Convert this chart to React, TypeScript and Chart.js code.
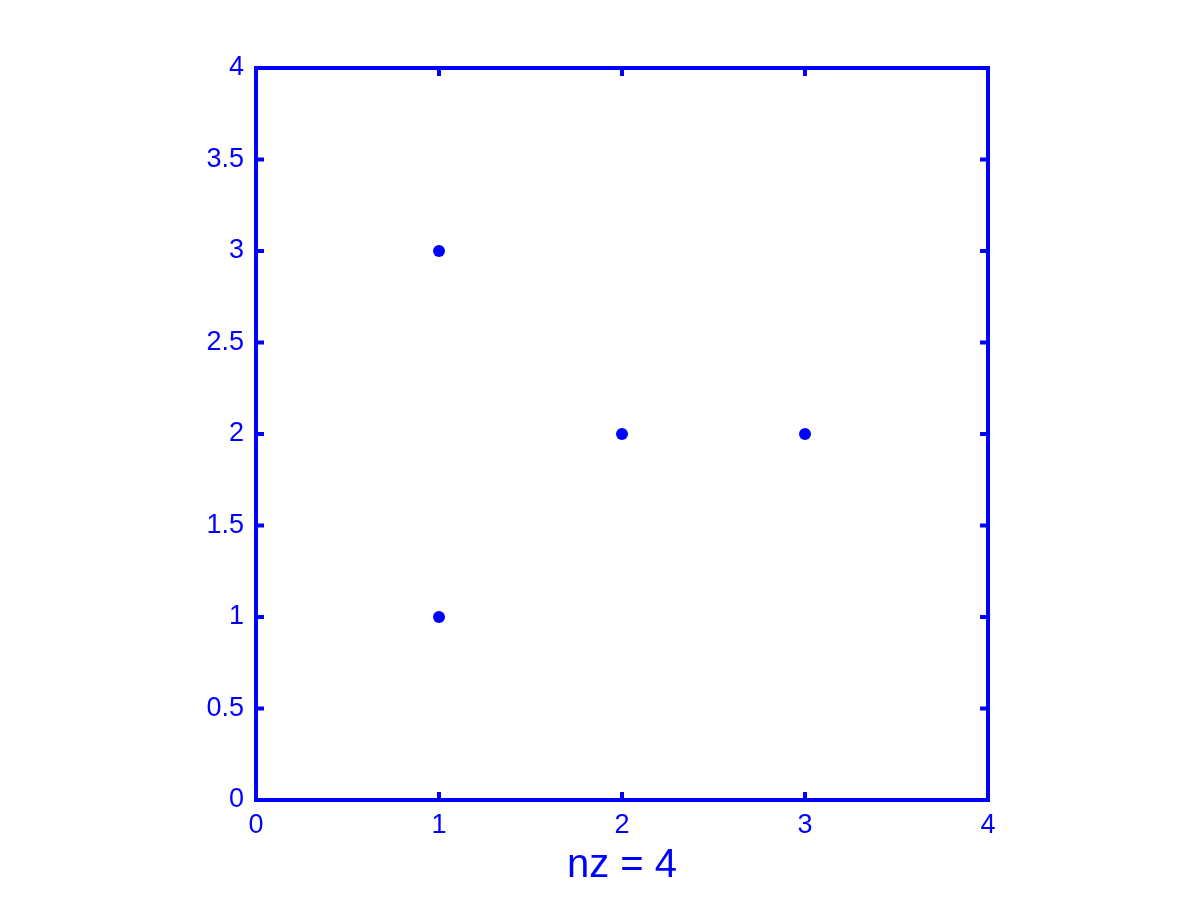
import React, { useEffect, useRef } from "react";
import { Chart, registerables } from "chart.js";

Chart.register(...registerables);

const xValues = [1, 1, 2, 3];
const yValues = [3, 1, 2, 2];
const xTickValues = [0, 1, 2, 3, 4];
const yTickValues = [0, 0.5, 1, 1.5, 2, 2.5, 3, 3.5, 4];
const xLabelText = "nz = 4";

const BLUE = "#0000ff";
const FONT = "'Liberation Sans', Arial, sans-serif";

const frameTicks = {
  id: "frameTicks",
  afterDraw(chart: any) {
    const { ctx, chartArea } = chart;
    const xs = chart.scales.x;
    const ys = chart.scales.y;
    const { left, right, top, bottom } = chartArea;
    ctx.save();
    ctx.strokeStyle = BLUE;
    ctx.lineWidth = 4;
    const tl = 8;
    ctx.beginPath();
    xTickValues.forEach((v) => {
      const px = xs.getPixelForValue(v);
      ctx.moveTo(px, bottom);
      ctx.lineTo(px, bottom - tl);
      ctx.moveTo(px, top);
      ctx.lineTo(px, top + tl);
    });
    yTickValues.forEach((v) => {
      const py = ys.getPixelForValue(v);
      ctx.moveTo(left, py);
      ctx.lineTo(left + tl, py);
      ctx.moveTo(right, py);
      ctx.lineTo(right - tl, py);
    });
    ctx.stroke();
    ctx.lineJoin = "miter";
    ctx.strokeRect(left, top, right - left, bottom - top);
    ctx.restore();
  },
};

export default function App() {
  const ref = useRef<HTMLCanvasElement | null>(null);
  useEffect(() => {
    document.body.style.margin = "0";
    const canvas = ref.current!;
    const chart = new Chart(canvas, {
      type: "scatter",
      data: {
        datasets: [
          {
            data: xValues.map((x, i) => ({ x, y: yValues[i] })),
            backgroundColor: BLUE,
            borderColor: BLUE,
            pointRadius: 6,
            borderWidth: 0,
          },
        ],
      },
      options: {
        animation: false,
        responsive: false,
        layout: { padding: { left: 0, top: 68, right: 212, bottom: 0 } },
        plugins: { legend: { display: false }, tooltip: { enabled: false } },
        scales: {
          x: {
            type: "linear",
            min: 0,
            max: 4,
            afterFit: (s: any) => {
              s.height = 100;
            },
            afterBuildTicks: (s: any) => {
              s.ticks = xTickValues.map((v) => ({ value: v }));
            },
            grid: { display: false, drawTicks: false },
            border: { display: false },
            ticks: {
              color: BLUE,
              font: { family: FONT, size: 27 },
              padding: 9,
              maxRotation: 0,
            },
            title: {
              display: true,
              text: xLabelText,
              color: BLUE,
              font: { family: FONT, size: 40 },
              padding: { top: 0, bottom: 10 },
            },
          },
          y: {
            type: "linear",
            min: 0,
            max: 4,
            afterFit: (s: any) => {
              s.width = 256;
            },
            afterBuildTicks: (s: any) => {
              s.ticks = yTickValues.map((v) => ({ value: v }));
            },
            grid: { display: false, drawTicks: false },
            border: { display: false },
            ticks: {
              color: BLUE,
              font: { family: FONT, size: 27 },
              padding: 12,
              callback: (v: any) => String(v),
            },
          },
        },
      },
      plugins: [frameTicks],
    });
    return () => chart.destroy();
  }, []);
  return (
    <div style={{ position: "absolute", left: 0, top: 0, width: 1200, height: 900, background: "#fff" }}>
      <canvas ref={ref} width={1200} height={900} style={{ width: 1200, height: 900 }} />
    </div>
  );
}
